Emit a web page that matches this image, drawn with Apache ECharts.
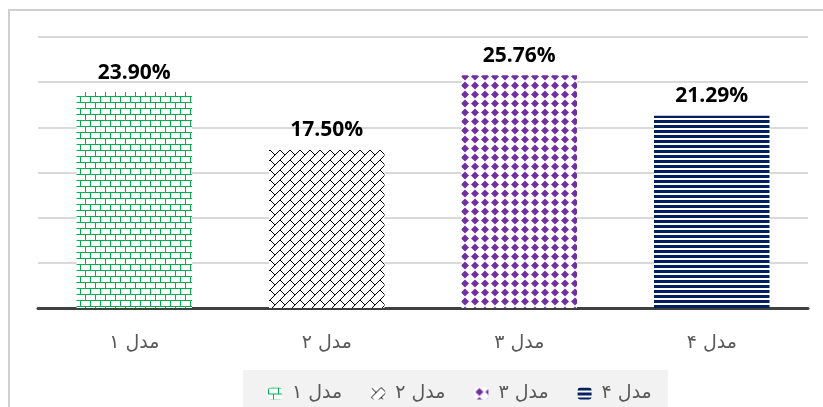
<!DOCTYPE html>
<html>
<head>
<meta charset="utf-8">
<script src="https://cdn.jsdelivr.net/npm/echarts@6/dist/echarts.min.js"></script>
<style>
  html, body { margin: 0; padding: 0; background: #fff; }
  #chart { width: 823px; height: 407px; }
</style>
</head>
<body>
<div id="chart"></div>
<script>
const categories = ['مدل ۱', 'مدل ۲', 'مدل ۳', 'مدل ۴']
const values = [23.90, 17.50, 25.76, 21.29]
const valueLabels = ['23.90%', '17.50%', '25.76%', '21.29%']
const yTicks = [0, 5, 10, 15, 20, 25, 30]

// small canvas tiles that mimic the Excel fill patterns
function makeTile(w, h, draw) {
  const c = document.createElement('canvas')
  c.width = w
  c.height = h
  const ctx = c.getContext('2d')
  ctx.fillStyle = '#fff'
  ctx.fillRect(0, 0, w, h)
  draw(ctx)
  return { image: c, repeat: 'repeat' }
}

const brick = makeTile(10, 12, (ctx) => {
  ctx.strokeStyle = '#00b050'
  ctx.lineWidth = 1
  ctx.beginPath()
  ctx.moveTo(0, 0.5); ctx.lineTo(10, 0.5)
  ctx.moveTo(0, 6.5); ctx.lineTo(10, 6.5)
  ctx.moveTo(0.5, 0); ctx.lineTo(0.5, 6)
  ctx.moveTo(5.5, 6); ctx.lineTo(5.5, 12)
  ctx.stroke()
})

const diagBrick = makeTile(10, 10, (ctx) => {
  ctx.strokeStyle = '#000'
  ctx.lineWidth = 1
  ctx.beginPath()
  ctx.moveTo(0, 10); ctx.lineTo(10, 0)
  ctx.moveTo(0, 0); ctx.lineTo(5, 5)
  ctx.stroke()
})

const diamonds = makeTile(10, 9, (ctx) => {
  ctx.fillStyle = '#7030a0'
  ctx.beginPath()
  ctx.moveTo(5, 0.5); ctx.lineTo(9, 4.5); ctx.lineTo(5, 8.5); ctx.lineTo(1, 4.5)
  ctx.closePath()
  ctx.fill()
})

const hLines = makeTile(4, 5, (ctx) => {
  ctx.fillStyle = '#002060'
  ctx.fillRect(0, 0, 4, 3)
})

const fills = [brick, diagBrick, diamonds, hLines]

const chart = echarts.init(document.getElementById('chart'))

const series = categories.map((name, i) => ({
  name: name,
  type: 'bar',
  stack: 'all',
  barWidth: '60%',
  data: values.map((v, j) => (j === i ? v : '-')),
  itemStyle: { color: fills[i] },
  label: {
    show: true,
    position: 'top',
    distance: 9,
    formatter: (p) => valueLabels[p.dataIndex],
    color: '#000',
    fontFamily: '"Open Sans", sans-serif',
    fontWeight: 'bold',
    fontSize: 21
  }
}))

chart.setOption({
  animation: false,
  grid: { left: 38, right: 15, top: 37, bottom: 99 },
  graphic: [
    {
      type: 'rect',
      shape: { x: 9, y: 10, width: 900, height: 500 },
      style: { fill: 'none', stroke: '#d0d0d0', lineWidth: 2 },
      z: -1
    }
  ],
  legend: {
    data: categories,
    left: 243,
    top: 370,
    padding: [14, 16, 10, 25],
    backgroundColor: '#f2f2f2',
    itemWidth: 14,
    itemHeight: 12,
    itemGap: 29,
    textStyle: {
      color: '#595959',
      fontSize: 19,
      fontFamily: '"DejaVu Sans", sans-serif',
      padding: [0, 0, 0, 5]
    }
  },
  xAxis: {
    type: 'category',
    data: categories,
    axisTick: { show: false },
    axisLine: { lineStyle: { color: '#404040', width: 3 } },
    axisLabel: {
      color: '#595959',
      fontSize: 19,
      margin: 26,
      fontFamily: '"DejaVu Sans", sans-serif'
    }
  },
  yAxis: {
    type: 'value',
    min: yTicks[0],
    max: yTicks[yTicks.length - 1],
    interval: yTicks[1] - yTicks[0],
    axisLabel: { show: false },
    axisLine: { show: false },
    axisTick: { show: false },
    splitLine: { lineStyle: { color: '#d9d9d9', width: 2 } }
  },
  series: series
})
</script>
</body>
</html>
